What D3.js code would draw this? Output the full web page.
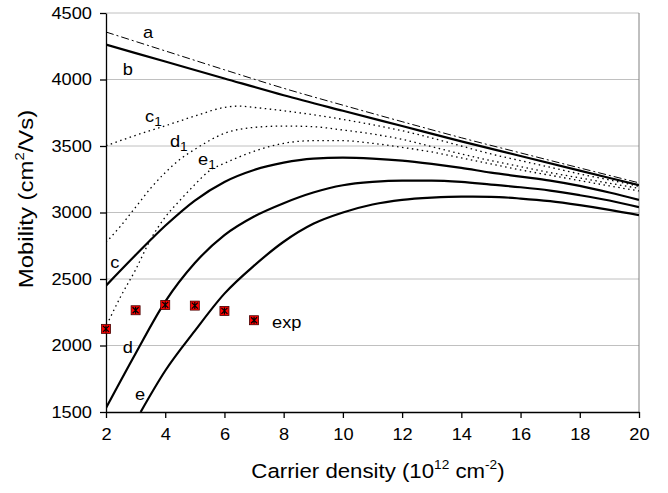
<!DOCTYPE html>
<html><head><meta charset="utf-8">
<script src="https://cdn.jsdelivr.net/npm/d3@7/dist/d3.min.js"></script>
<style>
html,body{margin:0;padding:0;background:#fff;}
svg{display:block;font-family:"Liberation Sans",Arial,Helvetica,sans-serif;}
</style></head>
<body><svg id="chart" width="668" height="493"></svg>
<script>
// ---- data ----
const xTicks = [2,4,6,8,10,12,14,16,18,20];
const yTicks = [1500,2000,2500,3000,3500,4000,4500];
const curveA = [[2,4357],[4,4215],[6,4073],[8,3934],[10,3807],[12,3683],[14,3562],[16,3448],[18,3335],[20,3223]];
const curveB = [[2,4262],[4,4135],[6,4008],[8,3882],[10,3765],[12,3650],[14,3535],[16,3425],[18,3315],[20,3205]];
const curveC = [[2,2450],[3,2680],[4,2900],[5,3090],[6,3230],[7,3320],[8,3375],[9,3405],[10,3412],[11,3405],[12,3390],[13,3365],[14,3335],[15,3300],[16,3270],[17,3240],[18,3200],[19,3150],[20,3095]];
const curveD = [[2,1530],[3,1940],[4,2330],[5,2620],[6,2830],[7,2970],[8,3070],[9,3150],[10,3205],[11,3230],[12,3240],[13,3240],[14,3230],[15,3210],[16,3190],[17,3165],[18,3130],[19,3090],[20,3040]];
const curveE = [[3.17,1500],[4,1810],[5,2110],[6,2390],[7,2600],[8,2780],[9,2915],[10,3000],[11,3060],[12,3095],[13,3112],[14,3120],[15,3118],[16,3105],[17,3085],[18,3055],[19,3020],[20,2980]];
const curveC1 = [[2,3502],[3,3580],[4,3652],[5,3725],[6,3790],[6.5,3800],[7,3790],[8,3765],[9,3735],[10,3700],[11,3660],[12,3615],[13,3560],[14,3500],[15,3440],[16,3390],[17,3340],[18,3290],[19,3245],[20,3197]];
const curveD1 = [[2,2775],[2.5,2900],[3,3040],[3.5,3180],[4,3300],[4.5,3400],[5,3475],[6,3595],[7,3640],[8,3650],[9,3645],[10,3620],[11,3590],[12,3550],[13,3495],[14,3440],[15,3390],[16,3345],[17,3300],[18,3260],[19,3220],[20,3182]];
const curveE1 = [[2.1,2190],[2.5,2370],[3,2570],[3.5,2795],[4,2965],[4.5,3092],[5,3210],[5.5,3315],[6,3370],[6.5,3418],[7,3460],[8,3520],[9,3540],[10,3540],[11,3520],[12,3490],[13,3455],[14,3410],[15,3365],[16,3320],[17,3280],[18,3240],[19,3200],[20,3162]];
const expX = [2,3,4,5,6,7];
const expY = [2125,2265,2305,2300,2260,2190];
const labels = [
  {t:"a", x:3.25, y:4312},
  {t:"b", x:2.57, y:4034},
  {t:"c", sub:"1", x:3.32, y:3680},
  {t:"d", sub:"1", x:4.16, y:3492},
  {t:"e", sub:"1", x:5.11, y:3357},
  {t:"c", x:2.14, y:2583},
  {t:"d", x:2.57, y:1944},
  {t:"e", x:2.98, y:1590},
  {t:"exp", x:7.61, y:2131}
];

// ---- layout ----
const SX = 1.14; // horizontal glyph stretch of the original's font
const svg = d3.select("#chart");
const L = 106, R = 639, T = 13, B = 412;
const x = d3.scaleLinear().domain([2,20]).range([L,R]);
const y = d3.scaleLinear().domain([1500,4500]).range([B,T]);

function stretch(sel){
  sel.each(function(){
    const t = d3.select(this);
    const px = +t.attr("x")||0;
    t.attr("transform",`translate(${px},0) scale(${SX},1) translate(${-px},0)`);
  });
}

// gridlines
svg.append("g").selectAll("line").data(yTicks.filter(d=>d>1500)).join("line")
  .attr("x1",L).attr("x2",R).attr("y1",d=>y(d)).attr("y2",d=>y(d))
  .attr("stroke","#c0c0c0").attr("stroke-width",1);
// right border
svg.append("line").attr("x1",R).attr("x2",R).attr("y1",T).attr("y2",B)
  .attr("stroke","#808080").attr("stroke-width",1);

svg.append("defs").append("clipPath").attr("id","clip")
  .append("rect").attr("x",L).attr("y",T).attr("width",R-L).attr("height",B-T);

const line = d3.line().x(d=>x(d[0])).y(d=>y(d[1])).curve(d3.curveMonotoneX);
const g = svg.append("g").attr("clip-path","url(#clip)");

function draw(data, w, dash){
  const p = g.append("path").attr("d", line(data)).attr("fill","none")
    .attr("stroke","#000").attr("stroke-width",w);
  if(dash) p.attr("stroke-dasharray",dash);
}
draw(curveC1,1.3,"1.5,3.5");
draw(curveD1,1.3,"1.5,3.5");
draw(curveE1,1.3,"1.5,3.5");
draw(curveA,1,"8,3,2,3");
draw(curveB,2.2);
draw(curveC,2.2);
draw(curveD,2.2);
draw(curveE,2.2);

// axes
const yAxis = d3.axisLeft(y).tickValues(yTicks).tickFormat(d3.format("d")).tickSize(6).tickPadding(8).tickSizeOuter(0);
const xAxis = d3.axisBottom(x).tickValues(xTicks).tickFormat(d3.format("d")).tickSize(6).tickPadding(11).tickSizeOuter(0);
const ya = svg.append("g").attr("transform",`translate(${L},0)`).call(yAxis);
const xa = svg.append("g").attr("transform",`translate(0,${B})`).call(xAxis);
[ya,xa].forEach(a=>{
  a.selectAll("path,line").attr("stroke","#000").attr("stroke-width",1.3);
  a.selectAll("text").attr("font-size",16).attr("fill","#000")
    .attr("font-family","'Liberation Sans',Arial,sans-serif").call(stretch);
});

// experimental markers
const ex = svg.append("g");
expX.forEach((xv,i)=>{
  const cx = x(xv), cy = y(expY[i]);
  ex.append("rect").attr("x",cx-4.5).attr("y",cy-4.5).attr("width",9).attr("height",9)
    .attr("fill","#ff0000").attr("stroke","#400").attr("stroke-width",0.8);
  ex.append("path").attr("d",`M${cx-3},${cy-3}L${cx+3},${cy+3}M${cx-3},${cy+3}L${cx+3},${cy-3}M${cx},${cy-3.5}L${cx},${cy+3.5}`)
    .attr("stroke","#000").attr("stroke-width",1.2);
});

// curve labels
const lg = svg.append("g").attr("font-size",16).attr("fill","#000");
labels.forEach(l=>{
  const t = lg.append("text").attr("x",x(l.x)).attr("y",y(l.y)).text(l.t);
  if(l.sub) t.append("tspan").attr("font-size",12).attr("dy",4).text(l.sub);
  stretch(t);
});

// axis titles
const xt = svg.append("text").attr("x",378).attr("y",478).attr("text-anchor","middle")
  .attr("font-size",19.5).attr("fill","#000");
xt.append("tspan").text("Carrier density (10");
xt.append("tspan").attr("font-size",12).attr("dy",-9).text("12");
xt.append("tspan").attr("dy",9).text(" cm");
xt.append("tspan").attr("font-size",12).attr("dy",-9).text("-2");
xt.append("tspan").attr("dy",9).text(")");
stretch(xt);

const yt = svg.append("text").attr("transform",`translate(33,199) rotate(-90) scale(${SX},1)`)
  .attr("text-anchor","middle").attr("font-size",21).attr("fill","#000");
yt.append("tspan").text("Mobility (cm");
yt.append("tspan").attr("font-size",13).attr("dy",-9).text("2");
yt.append("tspan").attr("dy",9).text("/Vs)");
</script></body></html>
